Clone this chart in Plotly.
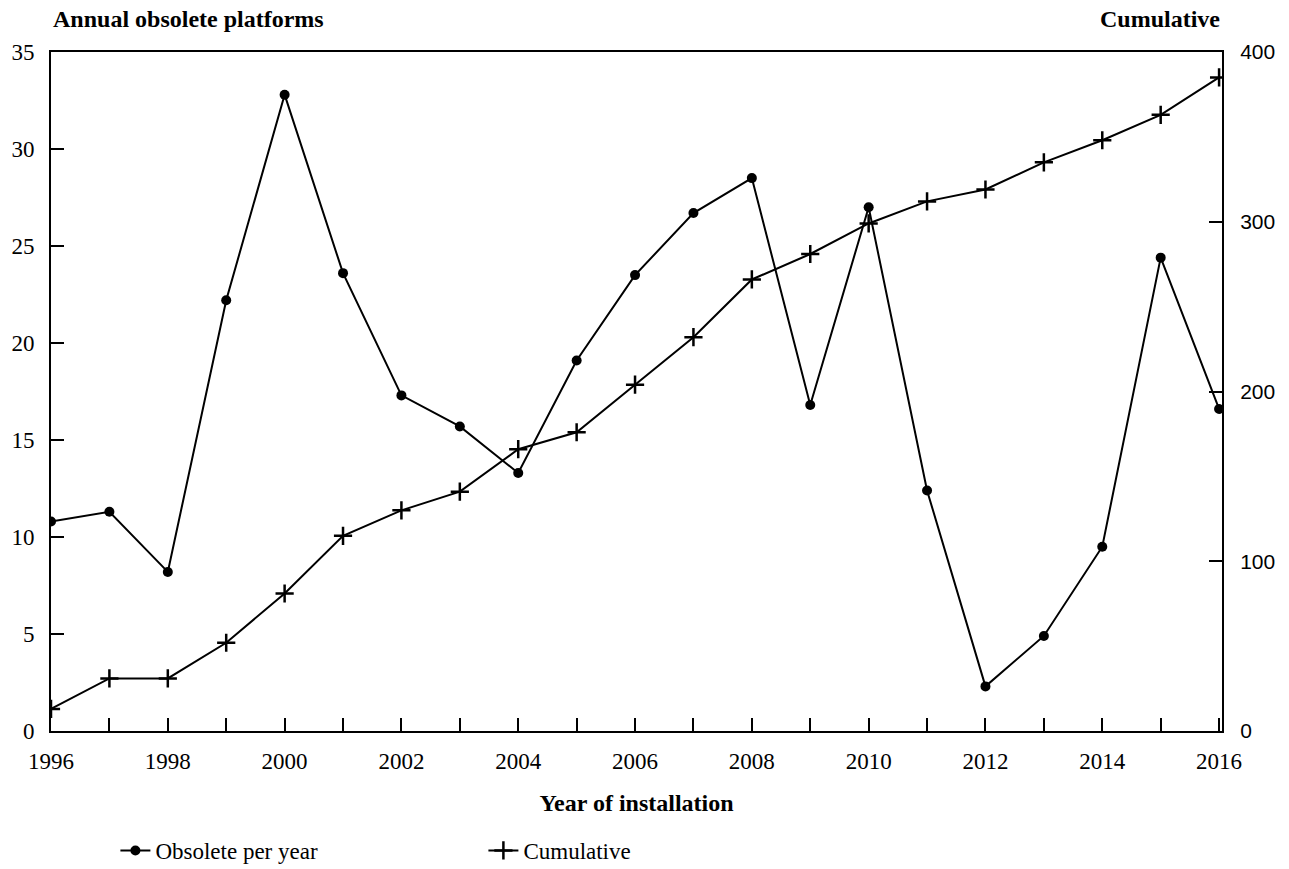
import plotly.graph_objects as go

years = list(range(1996, 2017))
obsolete_per_year = [10.8, 11.3, 8.2, 22.2, 32.8, 23.6, 17.3, 15.7, 13.3, 19.1,
                     23.5, 26.7, 28.5, 16.8, 27.0, 12.4, 2.3, 4.9, 9.5, 24.4, 16.6]
cumulative = [13, 31, 31, 52, 81, 115, 130, 141, 166, 176,
              204, 232, 266, 281, 299, 312, 319, 335, 348, 363, 385]

left_ticks = [0, 5, 10, 15, 20, 25, 30, 35]
right_ticks = [0, 100, 200, 300, 400]
x_labels = [str(y) if (y - 1996) % 2 == 0 else "" for y in years]

serif = "Liberation Serif"
ink = "black"

fig = go.Figure()
fig.add_trace(go.Scatter(
    x=years, y=obsolete_per_year, name="Obsolete per year",
    mode="lines+markers",
    line=dict(color=ink, width=2),
    marker=dict(symbol="circle", size=10, color=ink),
))
fig.add_trace(go.Scatter(
    x=years, y=cumulative, name="Cumulative", yaxis="y2",
    mode="lines+markers",
    line=dict(color=ink, width=2),
    marker=dict(symbol="cross-thin", size=13, color=ink,
                line=dict(color=ink, width=2.5)),
))

fig.update_layout(
    width=1289, height=869,
    margin=dict(l=51, r=67, t=52, b=138, autoexpand=False),
    paper_bgcolor="white", plot_bgcolor="white",
    font=dict(family=serif, size=23, color=ink),
    showlegend=True,
    legend=dict(orientation="h", x=0.055, y=-0.176, xanchor="left", yanchor="middle",
                entrywidth=323, entrywidthmode="pixels",
                font=dict(family=serif, size=23, color=ink),
                bgcolor="rgba(0,0,0,0)"),
    xaxis=dict(
        range=[1996, 2016.05], tickvals=years, ticktext=x_labels,
        ticks="inside", ticklen=13, tickwidth=2, tickcolor=ink,
        showline=True, linewidth=2, linecolor=ink, mirror=True,
        showgrid=False, zeroline=False, ticklabelstandoff=8,
        title=dict(text="<b>Year of installation</b>", standoff=22,
                   font=dict(family=serif, size=24, color=ink)),
    ),
    yaxis=dict(
        range=[0, 35], tickvals=left_ticks,
        ticks="inside", ticklen=13, tickwidth=2, tickcolor=ink,
        showline=True, linewidth=2, linecolor=ink,
        showgrid=False, zeroline=False, ticklabelstandoff=10,
    ),
    yaxis2=dict(
        range=[0, 400], tickvals=right_ticks, overlaying="y", side="right",
        ticks="inside", ticklen=13, tickwidth=2, tickcolor=ink,
        showline=True, linewidth=2, linecolor=ink,
        showgrid=False, zeroline=False, ticklabelstandoff=12,
        tickfont=dict(family="Liberation Sans", size=21, color=ink),
    ),
    annotations=[
        dict(text="<b>Annual obsolete platforms</b>", xref="paper", yref="paper",
             x=0, y=1, xanchor="left", yanchor="bottom", yshift=18, showarrow=False,
             font=dict(family=serif, size=24, color=ink)),
        dict(text="<b>Cumulative</b>", xref="paper", yref="paper",
             x=1, y=1, xanchor="right", yshift=18, yanchor="bottom", showarrow=False,
             font=dict(family=serif, size=24, color=ink)),
    ],
)

fig.write_html("out.html")
